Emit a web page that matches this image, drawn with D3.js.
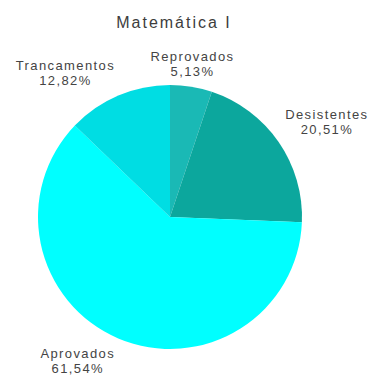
<!DOCTYPE html>
<html>
<head>
<meta charset="utf-8">
<script src="https://cdn.jsdelivr.net/npm/d3@7"></script>
<style>
  html, body { margin: 0; padding: 0; background: #fff; }
  svg { display: block; }
</style>
</head>
<body>
<div id="chart"></div>
<script>
// Matemática I - situation of students (pie)
const categories = ["Reprovados", "Desistentes", "Aprovados", "Trancamentos"];
const values     = [2, 8, 24, 5];
const pctLabels  = ["5,13%", "20,51%", "61,54%", "12,82%"];
const colors     = ["#1ab9b5", "#0ca79d", "#00ffff", "#00dde3"];

const width = 369, height = 376;
const cx = 170, cy = 217, radius = 132;
const labelOffset = 8;     // gap between pie edge and label corner
const lineHeight  = 15;

const svg = d3.select("#chart")
  .append("svg")
  .attr("width", width)
  .attr("height", height);

// TITLE
svg.append("text")
  .attr("x", 174)
  .attr("y", 28)
  .attr("text-anchor", "middle")
  .style("font-family", "'Liberation Sans', Arial, sans-serif")
  .style("font-size", "16px")
  .style("letter-spacing", "2px")
  .style("fill", "#3d3d3d")
  .text("Matemática I");

const data = categories.map((c, i) => ({ name: c, value: values[i], pct: pctLabels[i], color: colors[i] }));

const pie = d3.pie()
  .value(d => d.value)
  .sort(null);

const arc = d3.arc()
  .innerRadius(0)
  .outerRadius(radius);

const arcs = pie(data);

const g = svg.append("g")
  .attr("transform", `translate(${cx},${cy})`);

g.selectAll("path")
  .data(arcs)
  .join("path")
  .attr("d", arc)
  .attr("fill", d => d.data.color);

// LABELS — box corner sits on a point just outside the rim (LibreOffice style)
arcs.forEach(d => {
  const mid = (d.startAngle + d.endAngle) / 2;
  const r   = radius + labelOffset;
  const px  = Math.sin(mid) * r;
  const py  = -Math.cos(mid) * r;

  const lbl = g.append("text")
    .attr("text-anchor", "middle")
    .style("font-family", "'Liberation Sans', Arial, sans-serif")
    .style("font-size", "13px")
    .style("letter-spacing", "1.4px")
    .style("fill", "#444");

  const lines = [d.data.name, d.data.pct];
  const spans = lines.map((t, i) => lbl.append("tspan").attr("dy", i === 0 ? 0 : lineHeight).text(t));

  const boxW = d3.max(spans, s => s.node().getComputedTextLength());
  const boxH = lineHeight * lines.length;

  let left;
  if (Math.sin(mid) > 0.3) left = px;
  else if (Math.sin(mid) < -0.3) left = px - boxW;
  else left = px - boxW / 2;

  let top = Math.cos(mid) > 0 ? py - boxH : py;

  const centerX = left + boxW / 2;
  spans.forEach(s => s.attr("x", centerX));
  spans[0].attr("y", top + 12);
});
</script>
</body>
</html>
